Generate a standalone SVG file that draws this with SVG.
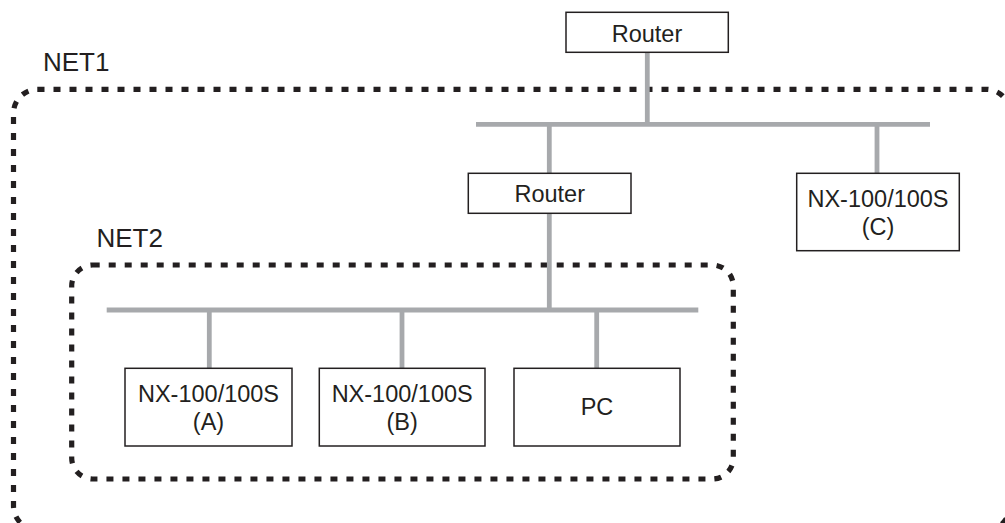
<svg xmlns="http://www.w3.org/2000/svg" width="1005" height="523" viewBox="0 0 1005 523">
<style>
.net{fill:none;stroke:#231f20;stroke-width:5.2;stroke-dasharray:7 9}
.lbl{font-family:"Liberation Sans",Arial,sans-serif;font-size:26px;fill:#231f20}
.box{fill:#fff;stroke:#231f20;stroke-width:1.5}
.t{font-family:"Liberation Sans",Arial,sans-serif;font-size:23.5px;fill:#231f20;text-anchor:middle}
.ln{stroke:#a7a9ac;stroke-width:4.8;fill:none}
</style>
<rect width="1005" height="523" fill="#fff"/>
<g id="net1">
<rect class="net" x="13.5" y="89.3" width="996.5" height="440.7" rx="24"/>
<text class="lbl" x="43" y="70.7">NET1</text>
</g>
<g id="net2">
<rect class="net" x="71.7" y="265" width="661.6" height="214" rx="21"/>
<text class="lbl" x="96.5" y="247.3">NET2</text>
</g>
<g id="connectors">
<line class="ln" x1="647.3" y1="52.3" x2="647.3" y2="124.3"/>
<line class="ln" x1="476" y1="124.3" x2="930" y2="124.3"/>
<line class="ln" x1="549.3" y1="124.3" x2="549.3" y2="173.3"/>
<line class="ln" x1="877" y1="124.3" x2="877" y2="173.3"/>
<line class="ln" x1="549.3" y1="213.3" x2="549.3" y2="310"/>
<line class="ln" x1="106.7" y1="310" x2="698.3" y2="310"/>
<line class="ln" x1="209.3" y1="310" x2="209.3" y2="368.3"/>
<line class="ln" x1="402" y1="310" x2="402" y2="368.3"/>
<line class="ln" x1="596.7" y1="310" x2="596.7" y2="368.3"/>
</g>
<g id="router-top">
<rect class="box" x="566" y="12.3" width="162.3" height="40"/>
<text class="t" x="647" y="41.7">Router</text>
</g>
<g id="router-net2">
<rect class="box" x="468.3" y="173.3" width="162.7" height="40"/>
<text class="t" x="549.7" y="201.7">Router</text>
</g>
<g id="nx-c">
<rect class="box" x="796.7" y="173.3" width="162.6" height="77.4"/>
<text class="t" x="878" y="206.7">NX-100/100S</text>
<text class="t" x="878" y="235">(C)</text>
</g>
<g id="nx-a">
<rect class="box" x="125" y="368.3" width="167" height="77.7"/>
<text class="t" x="208.5" y="401.7">NX-100/100S</text>
<text class="t" x="208.5" y="430">(A)</text>
</g>
<g id="nx-b">
<rect class="box" x="319.3" y="368.3" width="165.7" height="77.7"/>
<text class="t" x="402.2" y="401.7">NX-100/100S</text>
<text class="t" x="402.2" y="430">(B)</text>
</g>
<g id="pc">
<rect class="box" x="514" y="368.3" width="166" height="77.7"/>
<text class="t" x="597" y="415">PC</text>
</g>
</svg>
